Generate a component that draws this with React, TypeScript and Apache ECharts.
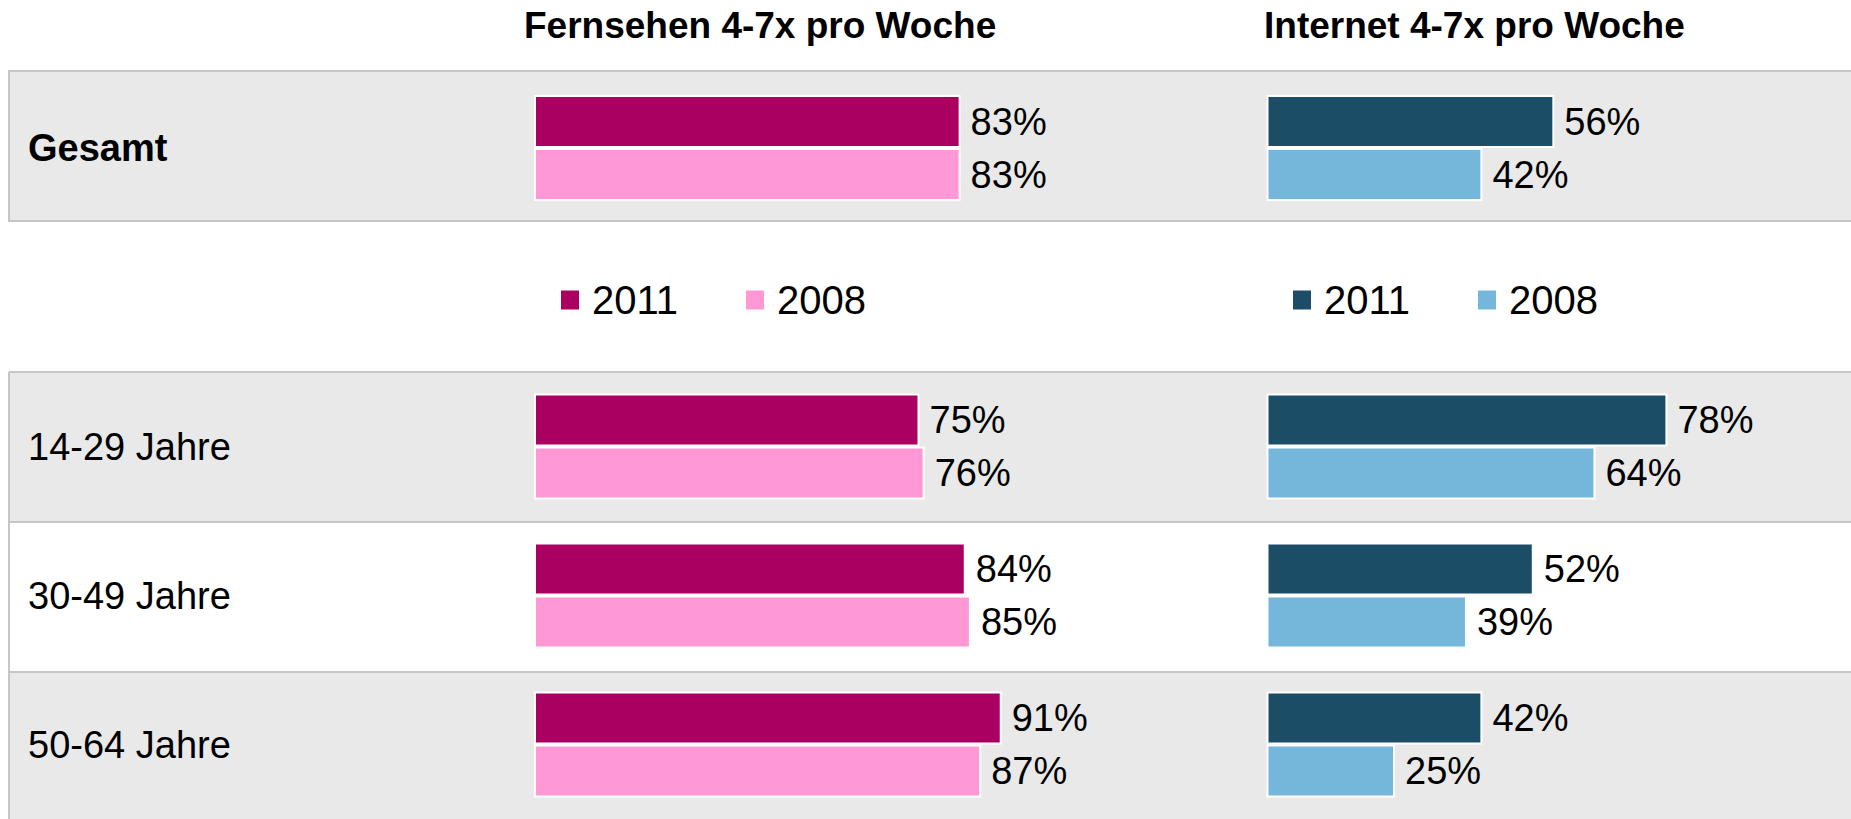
import React, { useEffect, useRef } from "react";
import * as echarts from "echarts";

// ---- data ----
const panelTitles = ["Fernsehen 4-7x pro Woche", "Internet 4-7x pro Woche"];
const seriesNames = ["2011", "2008"];
const totalCategories = ["Gesamt"];
const ageCategories = ["14-29 Jahre", "30-49 Jahre", "50-64 Jahre"];

const tv2011Total = [83];
const tv2008Total = [83];
const net2011Total = [56];
const net2008Total = [42];

const tv2011Age = [75, 84, 91];
const tv2008Age = [76, 85, 87];
const net2011Age = [78, 52, 42];
const net2008Age = [64, 39, 25];

// ---- styles ----
const FONT = "'Liberation Sans', Arial, sans-serif";
const FS = 38;
const FS_TITLE = 37;
const FS_LEGEND = 40;
const tvColors = ["#aa0062", "#ff98d4"];
const netColors = ["#1c4d66", "#74b7db"];
const rowGray = "#e9e9e9";
const lineGray = "#c6c6c6";

const W = 1851;
const H = 819;
const tvLeft = 534;
const netLeft = 1266.5;
const barAreaWidth = 514;
const totalTop = 73;
const totalH = 150;
const ageTop = 372;
const ageH = 447;

export default function App() {
  const ref = useRef<HTMLDivElement>(null);

  useEffect(() => {
    if (!ref.current) return;
    const chart = echarts.init(ref.current, null, { renderer: "svg" });

    const grids = [
      { left: tvLeft, top: totalTop, width: barAreaWidth, height: totalH },
      { left: netLeft, top: totalTop, width: barAreaWidth, height: totalH },
      { left: tvLeft, top: ageTop, width: barAreaWidth, height: ageH },
      { left: netLeft, top: ageTop, width: barAreaWidth, height: ageH },
    ];

    const xAxes = grids.map((_, i) => ({
      type: "value",
      gridIndex: i,
      min: 0,
      max: 100,
      show: false,
    }));

    const yAxes = grids.map((_, i) => ({
      type: "category",
      gridIndex: i,
      inverse: true,
      data: i < 2 ? totalCategories : ageCategories,
      axisLine: { show: false },
      axisTick: { show: false },
      splitLine: { show: false },
      axisLabel: {
        show: i % 2 === 0,
        align: "left",
        margin: tvLeft - 28,
        fontFamily: FONT,
        fontSize: FS,
        color: "#000",
        fontWeight: i === 0 ? "bold" : "normal",
      },
    }));

    const mk = (name: string, data: number[], idx: number, color: string) => ({
      type: "bar",
      name,
      data,
      xAxisIndex: idx,
      yAxisIndex: idx,
      barWidth: 53,
      barGap: "0%",
      itemStyle: { color, borderColor: "#ffffff", borderWidth: 2 },
      label: {
        show: true,
        position: "right",
        distance: 10,
        formatter: "{c}%",
        fontFamily: FONT,
        fontSize: FS,
        color: "#000",
      },
    });

    const series = [
      mk(seriesNames[0], tv2011Total, 0, tvColors[0]),
      mk(seriesNames[1], tv2008Total, 0, tvColors[1]),
      mk(seriesNames[0], net2011Total, 1, netColors[0]),
      mk(seriesNames[1], net2008Total, 1, netColors[1]),
      mk(seriesNames[0], tv2011Age, 2, tvColors[0]),
      mk(seriesNames[1], tv2008Age, 2, tvColors[1]),
      mk(seriesNames[0], net2011Age, 3, netColors[0]),
      mk(seriesNames[1], net2008Age, 3, netColors[1]),
    ];

    const legendCommon = {
      top: 280,
      padding: 0,
      icon: "rect",
      itemWidth: 20,
      itemHeight: 21,
      itemGap: 66,
      selectedMode: false,
      textStyle: {
        fontFamily: FONT,
        fontSize: FS_LEGEND,
        color: "#000",
        padding: [0, 0, 0, 7],
      },
    };

    const rowX = 9;
    const rowW = W + 20;
    const titleStyle = {
      fontFamily: FONT,
      fontSize: FS_TITLE,
      fontWeight: "bold",
      fill: "#000",
      align: "left",
      verticalAlign: "middle",
    };
    const graphic: any[] = [
      // Gesamt box
      {
        type: "rect",
        shape: { x: rowX, y: 71, width: rowW, height: 150 },
        style: { fill: rowGray, stroke: lineGray, lineWidth: 2 },
        z: -10,
      },
      // age rows
      {
        type: "rect",
        shape: { x: rowX, y: 372, width: rowW, height: 150 },
        style: { fill: rowGray },
        z: -10,
      },
      {
        type: "rect",
        shape: { x: rowX, y: 522, width: rowW, height: 150 },
        style: { fill: "#ffffff" },
        z: -10,
      },
      {
        type: "rect",
        shape: { x: rowX, y: 672, width: rowW, height: 160 },
        style: { fill: rowGray },
        z: -10,
      },
      ...[372, 522, 672].map((y) => ({
        type: "line",
        shape: { x1: rowX, y1: y, x2: W + 20, y2: y },
        style: { stroke: lineGray, lineWidth: 2 },
        z: -5,
      })),
      {
        type: "line",
        shape: { x1: rowX, y1: 372, x2: rowX, y2: H + 20 },
        style: { stroke: lineGray, lineWidth: 2 },
        z: -5,
      },
      {
        type: "text",
        x: 524,
        y: 25,
        style: { ...titleStyle, text: panelTitles[0] },
      },
      {
        type: "text",
        x: 1264,
        y: 25,
        style: { ...titleStyle, text: panelTitles[1] },
      },
    ];

    chart.setOption({
      animation: false,
      backgroundColor: "#ffffff",
      grid: grids,
      xAxis: xAxes,
      yAxis: yAxes,
      series,
      legend: [
        { ...legendCommon, left: 559, data: seriesNames },
        {
          ...legendCommon,
          left: 1291,
          data: seriesNames.map((n, i) => ({
            name: n,
            itemStyle: { color: netColors[i] },
          })),
        },
      ],
      graphic,
    });

    return () => chart.dispose();
  }, []);

  return (
    <div
      ref={ref}
      style={{ position: "fixed", left: 0, top: 0, width: W, height: H }}
    />
  );
}
